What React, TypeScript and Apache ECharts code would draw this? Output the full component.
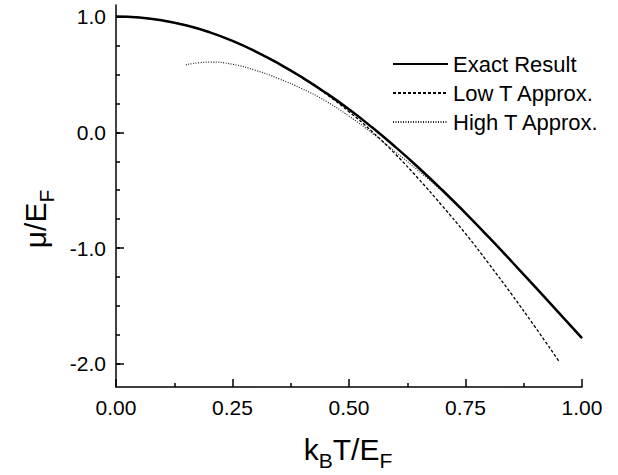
import React, { useEffect, useRef } from "react";
import * as echarts from "echarts";

// Temperature grid (k_B T / E_F)
const T_EXACT = [0, 0.05, 0.1, 0.15, 0.2, 0.25, 0.3, 0.35, 0.4, 0.45, 0.5, 0.55, 0.6, 0.65, 0.7, 0.75, 0.8, 0.85, 0.9, 0.95, 1.0];
const EXACT = [1.0, 0.992, 0.967, 0.925, 0.866, 0.79, 0.698, 0.592, 0.473, 0.342, 0.199, 0.041, -0.128, -0.308, -0.498, -0.698, -0.906, -1.12, -1.338, -1.558, -1.778];

const T_LOW = [0, 0.05, 0.1, 0.15, 0.2, 0.25, 0.3, 0.35, 0.4, 0.45, 0.5, 0.55, 0.6, 0.65, 0.7, 0.75, 0.8, 0.85, 0.9, 0.95];
const LOW_T = [1.0, 0.992, 0.967, 0.925, 0.866, 0.79, 0.697, 0.59, 0.47, 0.333, 0.178, 0.005, -0.19, -0.405, -0.635, -0.875, -1.135, -1.405, -1.685, -1.975];

const T_HIGH = [0.15, 0.2, 0.25, 0.3, 0.35, 0.4, 0.45, 0.5, 0.55, 0.6, 0.65, 0.7, 0.75, 0.8, 0.85, 0.9, 0.95, 1.0];
const HIGH_T = [0.583, 0.607, 0.588, 0.535, 0.462, 0.375, 0.27, 0.14, -0.008, -0.17, -0.335, -0.51, -0.705, -0.91, -1.123, -1.34, -1.56, -1.78];

const SERIES_NAMES = ["Exact Result", "Low T Approx.", "High T Approx."];

const Y_MAJOR = [-2, -1, 0, 1];
const Y_MINOR = [-2, -1.75, -1.5, -1.25, -1, -0.75, -0.5, -0.25, 0, 0.25, 0.5, 0.75, 1];

const FONT = "'Liberation Sans', Arial, Helvetica, sans-serif";

function pairs(xs: number[], ys: number[]) {
  return xs.map((x, i) => [x, ys[i]]);
}

export default function App() {
  const ref = useRef<HTMLDivElement>(null);
  useEffect(() => {
    const chart = echarts.init(ref.current!, null, { renderer: "svg" });
    const axisLineStyle = { color: "#000", width: 1.5 };
    chart.setOption({
      animation: false,
      backgroundColor: "#fff",
      textStyle: { fontFamily: FONT, color: "#000" },
      grid: { left: 116, right: 36, top: 5, bottom: 88, containLabel: false },
      legend: {
        data: SERIES_NAMES,
        orient: "vertical",
        left: 392,
        top: 53,
        padding: 0,
        itemWidth: 55,
        itemHeight: 14,
        itemGap: 7,
        itemStyle: { opacity: 0 },
        textStyle: { fontSize: 22, lineHeight: 22, color: "#000", fontFamily: FONT },
      },
      xAxis: {
        type: "value",
        min: 0,
        max: 1,
        interval: 0.25,
        axisLine: { show: true, onZero: false, lineStyle: axisLineStyle },
        axisTick: { show: true, inside: true, length: 8, lineStyle: axisLineStyle },
        minorTick: { show: true, splitNumber: 2, length: 4, lineStyle: axisLineStyle },
        axisLabel: {
          fontSize: 21,
          color: "#000",
          margin: 10,
          fontFamily: FONT,
          formatter: (v: number) => v.toFixed(2),
        },
        splitLine: { show: false },
        minorSplitLine: { show: false },
      },
      yAxis: [
        {
          type: "value",
          min: -2.2,
          max: 1.1,
          axisLine: { show: true, onZero: false, lineStyle: axisLineStyle },
          axisTick: { show: true, inside: true, length: 4, lineStyle: axisLineStyle, customValues: Y_MINOR },
          axisLabel: {
            fontSize: 21,
            color: "#000",
            margin: 10,
            fontFamily: FONT,
            customValues: Y_MAJOR,
            formatter: (v: number) => v.toFixed(1),
          },
          splitLine: { show: false },
        },
        {
          type: "value",
          min: -2.2,
          max: 1.1,
          position: "left",
          axisLine: { show: false, onZero: false },
          axisTick: { show: true, inside: true, length: 8, lineStyle: axisLineStyle, customValues: Y_MAJOR },
          axisLabel: { show: false },
          splitLine: { show: false },
        },
      ],
      series: [
        {
          name: SERIES_NAMES[0],
          type: "line",
          data: pairs(T_EXACT, EXACT),
          symbol: "none",
          smooth: true,
          z: 4,
          lineStyle: { color: "#000", width: 2.5, type: "solid" },
          itemStyle: { color: "#000" },
        },
        {
          name: SERIES_NAMES[1],
          type: "line",
          data: pairs(T_LOW, LOW_T),
          symbol: "none",
          smooth: true,
          z: 3,
          lineStyle: { color: "#000", width: 1.3, type: [3, 2] },
          itemStyle: { color: "#000" },
        },
        {
          name: SERIES_NAMES[2],
          type: "line",
          data: pairs(T_HIGH, HIGH_T),
          symbol: "none",
          smooth: true,
          z: 2,
          lineStyle: { color: "#222", width: 1.2, type: [1, 1.5] },
          itemStyle: { color: "#222" },
        },
      ],
      graphic: [
        {
          type: "text",
          x: 348,
          y: 434,
          style: {
            text: "{m|k}{s|B}{m|T/E}{s|F}",
            align: "center",
            verticalAlign: "top",
            fill: "#000",
            rich: {
              m: { fontSize: 30, lineHeight: 30, fontFamily: FONT, verticalAlign: "top", fill: "#000" },
              s: { fontSize: 21, lineHeight: 21, fontFamily: FONT, verticalAlign: "top", padding: [16, 0, 0, 0], fill: "#000" },
            },
          },
        },
        {
          type: "text",
          x: 35,
          y: 219,
          rotation: Math.PI / 2,
          style: {
            text: "{m|μ/E}{s|F}",
            align: "center",
            verticalAlign: "middle",
            fill: "#000",
            rich: {
              m: { fontSize: 30, lineHeight: 30, fontFamily: FONT, verticalAlign: "top", fill: "#000" },
              s: { fontSize: 21, lineHeight: 21, fontFamily: FONT, verticalAlign: "top", padding: [16, 0, 0, 0], fill: "#000" },
            },
          },
        },
      ],
    });
    return () => chart.dispose();
  }, []);
  return (
    <div
      ref={ref}
      style={{ width: 618, height: 475, position: "absolute", left: 0, top: 0 }}
    />
  );
}
